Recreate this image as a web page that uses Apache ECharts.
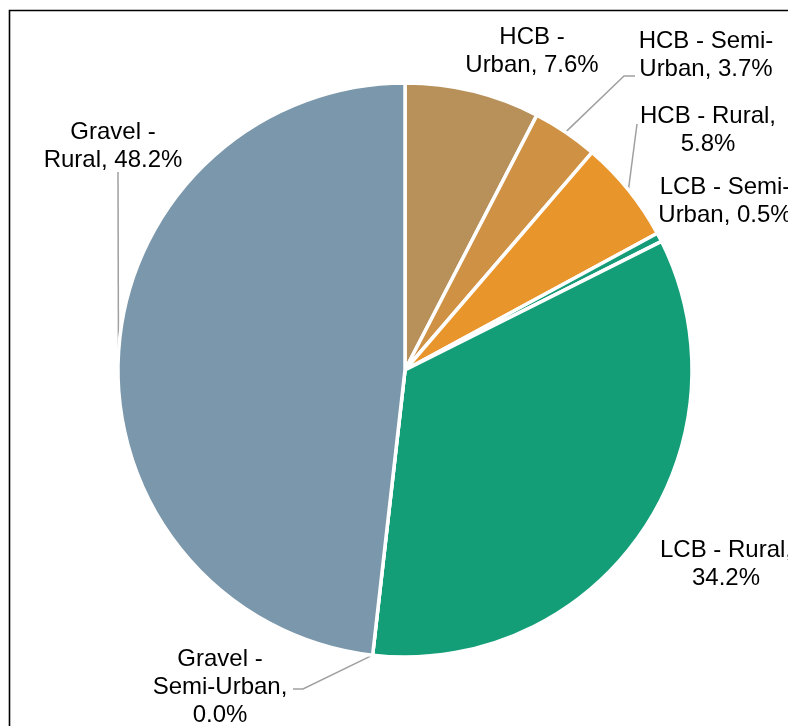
<!DOCTYPE html>
<html>
<head>
<meta charset="utf-8">
<script src="https://cdn.jsdelivr.net/npm/echarts@6/dist/echarts.min.js"></script>
<style>
  html, body { margin: 0; padding: 0; background: #fff; }
  #chart { width: 788px; height: 726px; }
</style>
</head>
<body>
<div id="chart"></div>
<script>
// Share of road length by surface type and area class (%)
const categories = ['HCB - Urban', 'HCB - Semi-Urban', 'HCB - Rural', 'LCB - Semi-Urban', 'LCB - Rural', 'Gravel - Semi-Urban', 'Gravel - Rural'];
const shares = [7.6, 3.7, 5.8, 0.5, 34.2, 0.0, 48.2];

// Where each label wraps onto a new line
const wrapAfter = [['HCB -'], ['HCB - Semi-'], ['HCB - Rural,'], ['LCB - Semi-'], ['LCB - Rural,'], ['Gravel -', 'Semi-Urban,'], ['Gravel -']];

const sliceColors = ['#B8905A', '#CF9143', '#E8962C', '#159B77', '#149E78', '#6F8CA0', '#7A97AB'];

// Label block centres and leader-line bends (pixels)
const labelPos = [
  { x: 532, y: 51.5 },
  { x: 706, y: 55.5, bends: [[624, 76], [635, 76]] },
  { x: 708, y: 130.5, bends: [[637, 124]] },
  { x: 725, y: 201.5 },
  { x: 726, y: 564.5 },
  { x: 220, y: 687.5, bends: [[303, 689], [293, 689]] },
  { x: 113, y: 146, bends: [[118, 172]] }
];

function wrap(text, marks) {
  let out = '', rest = text;
  for (const m of marks) {
    const k = rest.indexOf(m);
    if (k < 0) continue;
    out += rest.slice(0, k + m.length) + '\n';
    rest = rest.slice(k + m.length).replace(/^ /, '');
  }
  return out + rest;
}

const data = categories.map((name, i) => ({
  name,
  value: shares[i],
  itemStyle: { color: sliceColors[i] },
  labelLine: { show: !!labelPos[i].bends }
}));

const chart = echarts.init(document.getElementById('chart'), null, { renderer: 'canvas' });
chart.setOption({
  animation: false,
  graphic: [{
    type: 'rect',
    shape: { x: 9.5, y: 10.5, width: 900, height: 900 },
    style: { fill: 'none', stroke: '#000', lineWidth: 1.6 },
    z: -10
  }],
  series: [{
    type: 'pie',
    center: [405, 370],
    radius: 287,
    startAngle: 90,
    clockwise: true,
    avoidLabelOverlap: false,
    data,
    itemStyle: { borderColor: '#fff', borderWidth: 3.5 },
    label: {
      show: true,
      position: 'outside',
      fontFamily: '"Liberation Sans", Arial, sans-serif',
      fontSize: 24,
      lineHeight: 28,
      color: '#000',
      overflow: 'none',
      formatter: p => wrap(`${p.name}, ${p.value.toFixed(1)}%`, wrapAfter[p.dataIndex])
    },
    labelLine: {
      length: 10,
      length2: 10,
      lineStyle: { color: '#a0a0a0', width: 1.5 }
    },
    emphasis: { disabled: true },
    labelLayout: p => {
      const pos = labelPos[p.dataIndex];
      const out = { x: pos.x, y: pos.y, align: 'center', verticalAlign: 'middle', width: 240 };
      if (pos.bends && p.labelLinePoints) {
        out.labelLinePoints = [p.labelLinePoints[0]].concat(pos.bends);
      }
      return out;
    }
  }]
});
</script>
</body>
</html>
